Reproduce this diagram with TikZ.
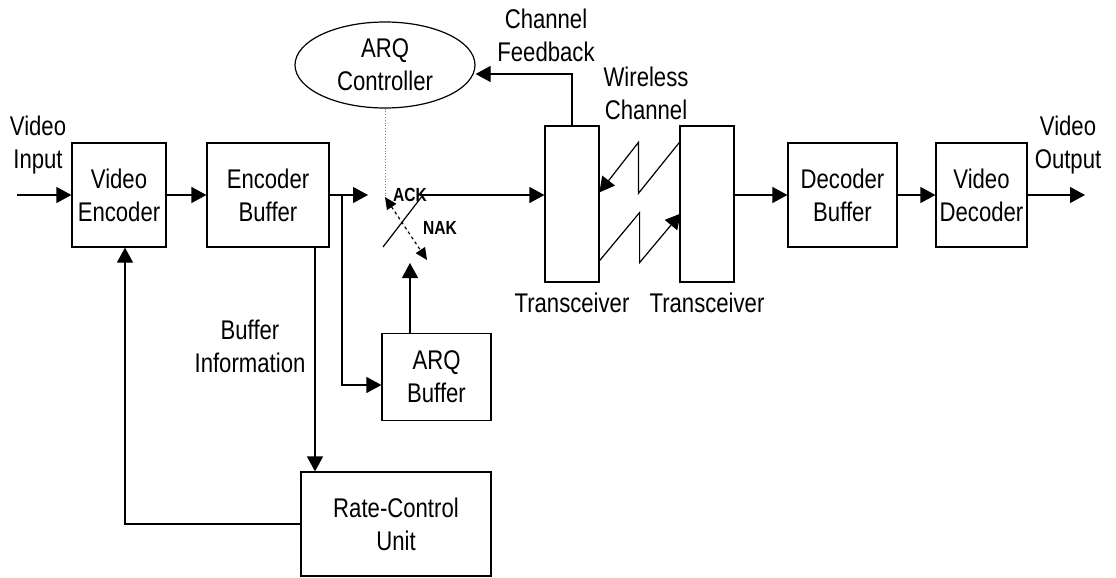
\documentclass[tikz,border=0pt]{standalone}
\usepackage{fontspec}
\setmainfont{Liberation Sans}[FakeStretch=0.82]
\usetikzlibrary{shapes,positioning,arrows.meta,calc}

\begin{document}
\begin{tikzpicture}[x=1pt,y=-1pt,line width=1.2pt,
	block/.style={draw,align=center,inner sep=0pt},
	lbl/.style={align=center,inner sep=0pt},
	swlbl/.style={inner sep=0pt,font=\fontsize{19}{22}\selectfont\bfseries},
	every node/.style={font=\fontsize{27}{33}\selectfont}]
	\tikzset{>={Triangle[length=15pt,width=16pt]}}
	\useasboundingbox (0,0) rectangle (1116,578);

	% boxes
	\node[block,minimum width=94pt,minimum height=104pt] (venc) at (119,195) {Video\\Encoder};
	\node[block,minimum width=122pt,minimum height=104pt] (ebuf) at (268,195) {Encoder\\Buffer};
	\node[block,minimum width=109pt,minimum height=87pt] (arqbuf) at (436.5,377) {ARQ\\Buffer};
	\node[block,minimum width=190pt,minimum height=104pt] (rcu) at (396,524) {Rate-Control\\Unit};
	\node[block,ellipse,minimum width=180pt,minimum height=86pt] (arqc) at (385,65) {ARQ\\Controller};
	\node[block,minimum width=54pt,minimum height=156pt] (trx1) at (572,204) {};
	\node[block,minimum width=54pt,minimum height=156pt] (trx2) at (707,204) {};
	\node[block,minimum width=109pt,minimum height=104pt] (dbuf) at (842.5,195) {Decoder\\Buffer};
	\node[block,minimum width=91pt,minimum height=104pt] (vdec) at (981.5,195) {Video\\Decoder};

	% labels
	\node[lbl] (inlbl) at (38,145) {Video\\Input};
	\node[lbl] (outlbl) at (1068,145) {Video\\Output};
	\node[lbl] (fblbl) at (546,35) {Channel\\Feedback};
	\node[lbl] (wclbl) at (646,93) {Wireless\\Channel};
	\node[lbl] (bilbl) at (250,346) {Buffer\\Information};
	\node[lbl,below=10pt of trx1.south] (t1lbl) {Transceiver};
	\node[lbl,below=10pt of trx2.south] (t2lbl) {Transceiver};
	\node[swlbl] (ack) at (410,195) {ACK};
	\node[swlbl] (nak) at (440,228) {NAK};

	\coordinate (vin) at (17,195);
	\coordinate (swin) at (368,195);
	\coordinate (br) at (342,195);
	\coordinate (pivot) at (385,197);
	\coordinate (nakin) at (410,263);
	\coordinate (ackout) at (420,195);
	\coordinate (vout) at (1085,195);

	% forward path
	\draw[->] (vin) -- (venc);
	\draw[->] (venc) -- (ebuf);
	\draw[->] (ebuf.east) -- (swin);
	\draw[->] (br) |- ([yshift=-8pt]arqbuf.west);
	\draw[->] (nakin |- arqbuf.north) -- (nakin);
	\draw[->] (ackout) -- (ackout -| trx1.west);
	\draw[->] (dbuf.west -| trx2.east) -- (dbuf.west);
	\draw[->] (dbuf) -- (vdec);
	\draw[->] (vdec) -- (vout);

	% switch
	\draw[dotted,gray,line width=0.8pt] (arqc.south) -- (pivot);
	\draw (383,247) -- (423,195);
	\draw[<->,dashed,>={Triangle[length=12pt,width=11pt]}] (pivot) -- (427,260);

	% feedback
	\draw[->] ([xshift=47pt]ebuf.south) -- ([xshift=47pt]ebuf.south |- rcu.north);
	\draw[->] (rcu.west) -| ([xshift=6pt]venc.south);
	\draw[->] (trx1.north) |- ([yshift=-9pt]arqc.east);

	% wireless channel
	\draw[->] ([yshift=-17pt]trx2.north west) -- ++(-41,51) -- ++(0,-51) -- ++(-39,50);
	\draw[->] ([yshift=22pt]trx1.south east) -- ++(40,-48) -- ++(0,50) -- ++(41,-49);
\end{tikzpicture}
\end{document}
